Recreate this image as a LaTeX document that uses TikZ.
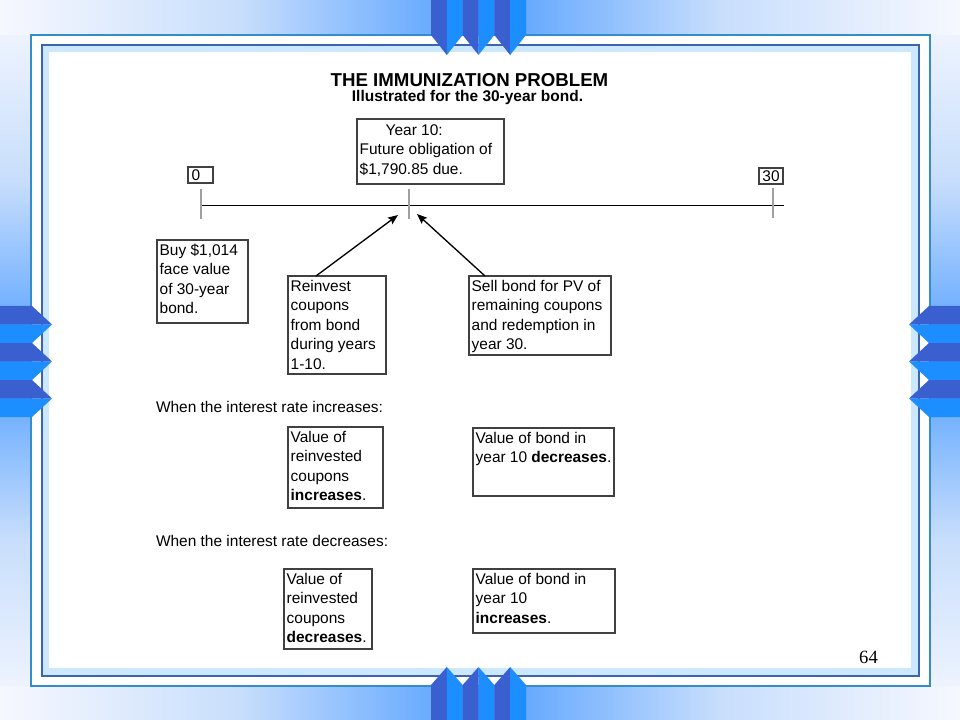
\documentclass[tikz,border=0pt]{standalone}
\usepackage{fontspec}
\setmainfont{Liberation Sans}
\newfontfamily\pagenumfont{Liberation Serif}
\usetikzlibrary{arrows.meta}
\definecolor{bandblue}{RGB}{80,158,255}
\definecolor{bandpale}{RGB}{200,222,252}
\definecolor{bandend}{RGB}{246,248,255}
\definecolor{chevdark}{RGB}{58,96,208}
\definecolor{chevbright}{RGB}{28,142,255}
\definecolor{outerline}{RGB}{52,140,200}
\definecolor{innerline}{RGB}{60,100,180}
\definecolor{innerband}{RGB}{204,232,255}
\definecolor{boxline}{RGB}{64,64,64}
\definecolor{tickgray}{RGB}{160,160,160}
\pgfdeclarehorizontalshading{hbandshade}{100bp}{color(0bp)=(bandend); color(25bp)=(bandend); color(37.5bp)=(bandpale); color(50bp)=(bandblue); color(62.5bp)=(bandpale); color(75bp)=(bandend); color(100bp)=(bandend)}
\pgfdeclareverticalshading{vbandshade}{100bp}{color(0bp)=(bandend); color(25bp)=(bandend); color(37.5bp)=(bandpale); color(50bp)=(bandblue); color(62.5bp)=(bandpale); color(75bp)=(bandend); color(100bp)=(bandend)}
\newcommand\bodyfont{\fontsize{11.6}{14.6}\selectfont}
\newcommand\titlefont{\fontsize{14}{16}\selectfont\bfseries}
\newcommand\subtitlefont{\fontsize{11.6}{14}\selectfont\bfseries}
\newcommand\bx[3]{\parbox[t][#2][t]{#1}{\bodyfont\raggedright #3}}
\tikzset{
  txtbox/.style={draw=boxline, line width=0.8pt, anchor=north west, inner xsep=2pt, inner ysep=3pt, outer sep=0pt},
  numbox/.style={draw=boxline, line width=0.8pt, anchor=north west, inner sep=0pt, outer sep=0pt, font=\bodyfont},
  plaintext/.style={inner sep=0pt, outer sep=0pt},
  conn/.style={line width=1pt, -{Stealth[length=7.5pt, width=6pt, inset=1.2pt]}},
  timeline/.style={line width=1pt, black},
  tickline/.style={line width=1pt, tickgray},
}
\begin{document}
\begin{tikzpicture}[x=0.75pt, y=-0.75pt]
\useasboundingbox (0,0) rectangle (960,720);
% background bands
\fill[bandend] (0,0) rectangle (960,720);
\shade[shading=vbandshade] (0,0) rectangle (31,720);
\shade[shading=vbandshade] (930,0) rectangle (960,720);
\shade[shading=hbandshade] (0,0) rectangle (960,35);
\shade[shading=hbandshade] (0,686) rectangle (960,720);
% frames
\fill[white] (31,35) rectangle (930,686);
\draw[outerline, line width=1.1pt] (31,35) rectangle (930,686);
\fill[innerband] (42,45) rectangle (919,676);
\fill[white] (49,52) rectangle (911,668);
\draw[innerline, line width=1.1pt] (42,45) rectangle (919,676);
% chevrons top and bottom
\foreach \x in {431,462.67,494.33}{
  \fill[chevdark] (\x,0) -- (\x+15.83,0) -- (\x+15.83,55) -- (\x,35) -- cycle;
  \fill[chevbright] (\x+15.83,0) -- (\x+31.67,0) -- (\x+31.67,35) -- (\x+15.83,55) -- cycle;
  \fill[chevdark] (\x,720) -- (\x+15.83,720) -- (\x+15.83,667) -- (\x,685) -- cycle;
  \fill[chevbright] (\x+15.83,720) -- (\x+31.67,720) -- (\x+31.67,685) -- (\x+15.83,667) -- cycle;
}
% chevrons left and right
\foreach \y in {306,343,380}{
  \fill[chevdark] (0,\y) -- (32,\y) -- (52,\y+18.5) -- (0,\y+18.5) -- cycle;
  \fill[chevbright] (0,\y+18.5) -- (52,\y+18.5) -- (32,\y+37) -- (0,\y+37) -- cycle;
  \fill[chevdark] (960,\y) -- (929,\y) -- (909,\y+18.5) -- (960,\y+18.5) -- cycle;
  \fill[chevbright] (960,\y+18.5) -- (909,\y+18.5) -- (929,\y+37) -- (960,\y+37) -- cycle;
}
% titles
\node[plaintext, anchor=base, font=\titlefont] (title) at (469.5,86.5) {THE IMMUNIZATION PROBLEM};
\node[plaintext, anchor=base, font=\subtitlefont] (subtitle) at (467.5,101.5) {Illustrated for the 30-year bond.};
% timeline
\coordinate (tl0) at (201,205.5);
\coordinate (tl30) at (784,205.5);
\draw[timeline] (tl0) -- (tl30);
\coordinate (tka) at (201,189); \coordinate (tkb) at (201,219);
\coordinate (tkc) at (409,189); \coordinate (tkd) at (409,219);
\coordinate (tke) at (773,188); \coordinate (tkf) at (773,218);
\draw[tickline] (tka) -- (tkb);
\draw[tickline] (tkc) -- (tkd);
\draw[tickline] (tke) -- (tkf);
\node[numbox, minimum width=18.75pt, minimum height=12pt, text width=13.5pt, align=left] (zero) at (188,167) {0};
\node[numbox, minimum width=18pt, minimum height=12pt] (thirty) at (759,168) {30};
\node[txtbox] (yearten) at (357,119) {\bx{106.25pt}{42.75pt}{\vspace*{1.2pt}\hspace*{19.5pt}Year 10:\\Future obligation of\\\$1,790.85 due.}};
% lower boxes
\node[txtbox] (buy) at (157,240) {\bx{64.25pt}{56.25pt}{Buy \$1,014\\face value\\of 30-year\\bond.}};
\node[txtbox] (reinvest) at (288,276) {\bx{69.5pt}{67.5pt}{Reinvest\\coupons\\from bond\\during years\\1-10.}};
\node[txtbox] (sell) at (469,276) {\bx{102.5pt}{53.25pt}{Sell bond for PV of\\remaining coupons\\and redemption in\\year 30.}};
\coordinate (tipL) at (398,215);
\coordinate (tipR) at (417,214);
\draw[conn] ([xshift=21pt]reinvest.north west) -- (tipL);
\draw[conn] ([xshift=12pt]sell.north west) -- (tipR);
% interest rate increases
\node[plaintext, anchor=base west, font=\bodyfont] (wheninc) at (156,412.5) {When the interest rate increases:};
\node[txtbox] (incr) at (288,427) {\bx{67.25pt}{54.75pt}{Value of\\reinvested\\coupons\\\textbf{increases}.}};
\node[txtbox] (bonddec) at (473,428) {\bx{101.75pt}{45pt}{Value of bond in\\year 10 \textbf{decreases}.}};
% interest rate decreases
\node[plaintext, anchor=base west, font=\bodyfont] (whendec) at (156,546.5) {When the interest rate decreases:};
\node[txtbox] (decr) at (284,569) {\bx{62pt}{54pt}{Value of\\reinvested\\coupons\\\textbf{decreases}.}};
\node[txtbox] (bondinc) at (473,569) {\bx{102.5pt}{42pt}{Value of bond in\\year 10\\\textbf{increases}.}};
% page number
\node[plaintext, anchor=base, font=\pagenumfont\fontsize{14}{16}\selectfont] (pagenum) at (868.5,663) {64};
\end{tikzpicture}
\end{document}
